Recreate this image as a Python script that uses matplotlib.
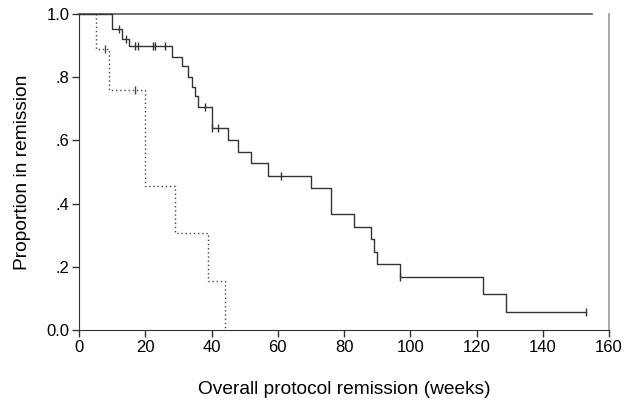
import matplotlib
matplotlib.use('Agg')
import matplotlib.pyplot as plt

plt.rcParams['font.family'] = ['Liberation Sans', 'DejaVu Sans']

# solid group
times_a = [0, 10, 13, 15, 28, 31, 33, 34, 35, 36, 40, 45, 48, 52, 57, 70, 76, 83, 88, 89, 90, 97, 122, 129, 153]
surv_a = [1.0, 0.952, 0.922, 0.898, 0.865, 0.834, 0.800, 0.770, 0.740, 0.705, 0.638, 0.601, 0.564,
          0.527, 0.488, 0.448, 0.367, 0.327, 0.287, 0.248, 0.208, 0.167, 0.114, 0.057, 0.057]
cens_a_t = [12, 14.2, 17, 17.7, 22.2, 23, 26, 38, 40, 42, 61, 97, 153]
cens_a_s = [0.952, 0.922, 0.898, 0.898, 0.898, 0.898, 0.898, 0.705, 0.638, 0.638, 0.488, 0.167, 0.057]

# dotted group
times_b = [0, 5, 9, 20, 29, 39, 44]
surv_b = [1.0, 0.888, 0.761, 0.456, 0.306, 0.155, 0.0]
cens_b_t = [8, 17]
cens_b_s = [0.888, 0.761]

# group that stayed in remission
times_c = [0, 155]
surv_c = [1.0, 1.0]

xticks = [0, 20, 40, 60, 80, 100, 120, 140, 160]
yticks = [0.0, 0.2, 0.4, 0.6, 0.8, 1.0]
ytick_labels = ['0.0', '.2', '.4', '.6', '.8', '1.0']

fig = plt.figure(figsize=(6.29, 4.05), dpi=100)
ax = fig.add_axes([79 / 629, 1 - 330 / 405, 530 / 629, 316 / 405])

ax.step(times_c, surv_c, where='post', color='#555555', lw=1.2, clip_on=False)
ax.step(times_a, surv_a, where='post', color='#333333', lw=1.0, clip_on=False)
ax.plot(cens_a_t, cens_a_s, ls='none', marker='|', ms=6, mew=1.0, color='#333333', clip_on=False)
ax.step(times_b, surv_b, where='post', color='#444444', lw=1.0, ls=(0, (1, 2)), clip_on=False)
ax.plot(cens_b_t, cens_b_s, ls='none', marker='|', ms=6, mew=1.0, color='#444444', clip_on=False)

ax.set_xlim(0, 160)
ax.set_ylim(0, 1.0)
ax.set_xticks(xticks)
ax.set_yticks(yticks)
ax.set_yticklabels(ytick_labels)
ax.tick_params(axis='both', direction='out', length=5, width=1, color='#333333',
               labelsize=12, pad=2)

ax.spines['top'].set_visible(False)
ax.spines['right'].set_color('#999999')
ax.spines['right'].set_linewidth(1.2)
ax.spines['left'].set_color('#333333')
ax.spines['bottom'].set_color('#333333')

ax.set_xlabel('Overall protocol remission (weeks)', fontsize=13.8, labelpad=19)
ax.set_ylabel('Proportion in remission', fontsize=13.8, labelpad=11)

fig.savefig('out.png', dpi=100)
